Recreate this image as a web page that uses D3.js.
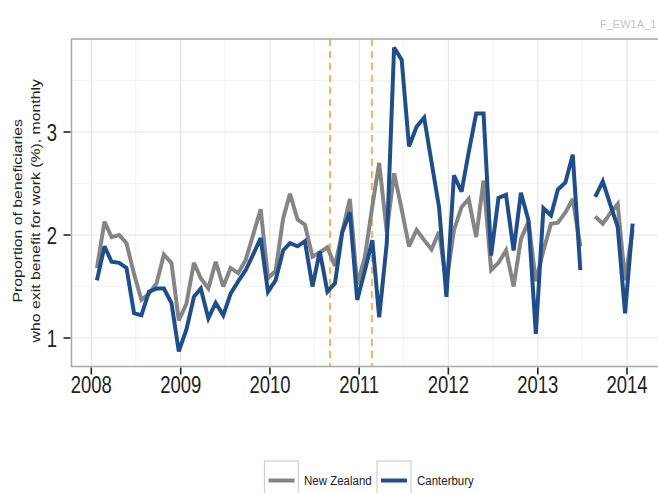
<!DOCTYPE html>
<html>
<head>
<meta charset="utf-8">
<script src="https://cdn.jsdelivr.net/npm/d3@7"></script>
<style>
  html, body { margin: 0; padding: 0; background: #fff; }
  svg { display: block; font-family: "Liberation Sans", Arial, sans-serif; }
</style>
</head>
<body>
<svg id="chart" width="658" height="493"></svg>
<script>
// ---- Data (monthly, Jan 2008 – Jan 2014; null = missing month) ----
const startYear = 2008;
const nzValues = [
  1.68, 2.13, 1.98, 2.00, 1.92, 1.62, 1.37, 1.43, 1.53, 1.81, 1.73, 1.17,
  1.33, 1.73, 1.58, 1.48, 1.74, 1.50, 1.68, 1.63, 1.76, 2.00, 2.25, 1.58,
  1.65, 2.16, 2.40, 2.15, 2.10, 1.79, 1.83, 1.88, 1.70, 2.03, 2.35, 1.52,
  1.78, 2.28, 2.70, 2.03, 2.60, 2.25, 1.89, 2.05, 1.95, 1.86, 2.03, 1.53,
  2.05, 2.27, 2.35, 1.98, 2.53, 1.66, 1.73, 1.85, 1.50, 1.96, 2.13, 1.55,
  1.85, 2.11, 2.12, 2.22, 2.35, 1.89, null, 2.18, 2.11, 2.21, 2.30, 1.56,
  2.05
];
const canterburyValues = [
  1.56, 1.89, 1.74, 1.73, 1.68, 1.24, 1.22, 1.45, 1.48, 1.48, 1.34, 0.87,
  1.08, 1.40, 1.48, 1.19, 1.34, 1.22, 1.43, 1.55, 1.66, 1.81, 1.97, 1.45,
  1.56, 1.85, 1.92, 1.89, 1.94, 1.50, 1.84, 1.45, 1.53, 2.03, 2.22, 1.37,
  1.65, 1.95, 1.20, 1.92, 3.82, 3.70, 2.86, 3.05, 3.14, 2.71, 2.27, 1.40,
  2.58, 2.42, 2.80, 3.18, 3.18, 1.80, 2.36, 2.39, 1.85, 2.41, 2.14, 1.04,
  2.26, 2.19, 2.44, 2.51, 2.78, 1.66, null, 2.37, 2.52, 2.30, 2.08, 1.24,
  2.11
];
const seriesNames = ["New Zealand", "Canterbury"];
const seriesColors = ["#858585", "#1f4e8a"];
const xTickYears = [2008, 2009, 2010, 2011, 2012, 2013, 2014];
const yTicks = [1, 2, 3];
const eventDates = [new Date(2010, 8, 4), new Date(2011, 1, 22)];
const yLabelLines = ["Proportion of beneficiaries", "who exit benefit for work (%), monthly"];
const cornerLabel = "F_EW1A_1";

// ---- Layout ----
const svg = d3.select("#chart");
const panel = { left: 71.5, top: 39, right: 700, bottom: 366.5 };
const sy = 1.33; // vertical stretch of text in the reference

const dates = nzValues.map((_, i) => new Date(startYear, i, 24));

const x = d3.scaleTime()
  .domain([new Date(2008, 0, 1), new Date(2014, 0, 1)])
  .range([91.3, 627]);
const y = d3.scaleLinear().domain([1, 3]).range([338, 132]);

svg.append("defs").append("clipPath").attr("id", "clip")
  .append("rect")
  .attr("x", panel.left).attr("y", panel.top)
  .attr("width", panel.right - panel.left).attr("height", panel.bottom - panel.top);

svg.append("rect")
  .attr("x", panel.left).attr("y", panel.top)
  .attr("width", panel.right - panel.left).attr("height", panel.bottom - panel.top)
  .attr("fill", "#fff");

const grid = svg.append("g").attr("clip-path", "url(#clip)");
const minorX = d3.range(2007, 2016).map(yr => new Date(yr, 6, 1));
const majorX = d3.range(2007, 2016).map(yr => new Date(yr, 0, 1));
grid.selectAll(".mx").data(minorX).join("line")
  .attr("x1", d => x(d)).attr("x2", d => x(d))
  .attr("y1", panel.top).attr("y2", panel.bottom)
  .attr("stroke", "#f3f3f3").attr("stroke-width", 1);
grid.selectAll(".Mx").data(majorX).join("line")
  .attr("x1", d => x(d)).attr("x2", d => x(d))
  .attr("y1", panel.top).attr("y2", panel.bottom)
  .attr("stroke", "#e6e6e6").attr("stroke-width", 1.2);
const minorY = [1.5, 2.5, 3.5];
const majorY = [1, 2, 3];
grid.selectAll(".my").data(minorY).join("line")
  .attr("x1", panel.left).attr("x2", panel.right)
  .attr("y1", d => y(d)).attr("y2", d => y(d))
  .attr("stroke", "#f3f3f3").attr("stroke-width", 1);
grid.selectAll(".My").data(majorY).join("line")
  .attr("x1", panel.left).attr("x2", panel.right)
  .attr("y1", d => y(d)).attr("y2", d => y(d))
  .attr("stroke", "#e6e6e6").attr("stroke-width", 1.2);

grid.selectAll(".ev").data(eventDates).join("line")
  .attr("x1", d => x(d)).attr("x2", d => x(d))
  .attr("y1", panel.top).attr("y2", panel.bottom)
  .attr("stroke", "#f2b450").attr("stroke-width", 2)
  .attr("stroke-dasharray", "7,5");

const line = d3.line()
  .defined(d => d.v != null)
  .x(d => x(d.t)).y(d => y(d.v));
const series = [nzValues, canterburyValues].map((vals, k) => ({
  name: seriesNames[k], color: seriesColors[k],
  pts: vals.map((v, i) => ({ t: dates[i], v }))
}));
grid.selectAll(".series").data(series).join("path")
  .attr("fill", "none")
  .attr("stroke", d => d.color)
  .attr("stroke-width", 4)
  .attr("stroke-linejoin", "miter")
  .attr("stroke-miterlimit", 3)
  .attr("d", d => line(d.pts));

svg.append("path")
  .attr("d", `M${panel.right},${panel.top}H${panel.left}V${panel.bottom}H${panel.right}`)
  .attr("fill", "none").attr("stroke", "#a8a8a8").attr("stroke-width", 1.5);

const xAxisG = svg.append("g");
xAxisG.selectAll("line").data(xTickYears).join("line")
  .attr("x1", d => x(new Date(d, 0, 1))).attr("x2", d => x(new Date(d, 0, 1)))
  .attr("y1", panel.bottom + 1).attr("y2", panel.bottom + 8)
  .attr("stroke", "#222").attr("stroke-width", 1.6);
xAxisG.selectAll("text").data(xTickYears).join("text")
  .attr("transform", d => `translate(${x(new Date(d, 0, 1))},393) scale(1,${sy})`)
  .attr("text-anchor", "middle")
  .attr("font-size", 18.5)
  .attr("fill", "#222")
  .text(d => d);

const yAxisG = svg.append("g");
yAxisG.selectAll("line").data(yTicks).join("line")
  .attr("x1", panel.left - 8).attr("x2", panel.left - 1)
  .attr("y1", d => y(d)).attr("y2", d => y(d))
  .attr("stroke", "#222").attr("stroke-width", 1.6);
yAxisG.selectAll("text").data(yTicks).join("text")
  .attr("transform", d => `translate(57,${y(d) + 8.5}) scale(1,${sy})`)
  .attr("text-anchor", "end")
  .attr("font-size", 18.5)
  .attr("fill", "#222")
  .text(d => d);

const yTitle = svg.append("g")
  .attr("transform", `translate(0,${(panel.top + panel.bottom) / 2 + 8})`);
yLabelLines.forEach((t, i) => {
  yTitle.append("text")
    .attr("transform", `translate(${22 + i * 18},0) rotate(-90) scale(1.17,1)`)
    .attr("text-anchor", "middle")
    .attr("font-size", 13.5)
    .attr("fill", "#222")
    .text(t);
});

svg.append("text")
  .attr("x", 600).attr("y", 28)
  .attr("font-size", 11)
  .attr("fill", "#c4c4c4")
  .text(cornerLabel);

const legendItems = [
  { name: seriesNames[0], color: seriesColors[0], bx: 264.5, tx: 304 },
  { name: seriesNames[1], color: seriesColors[1], bx: 377, tx: 417 }
];
const lg = svg.append("g");
legendItems.forEach(it => {
  lg.append("rect")
    .attr("x", it.bx).attr("y", 461).attr("width", 34).attr("height", 34)
    .attr("fill", "#fff").attr("stroke", "#cfcfcf").attr("stroke-width", 1.2);
  lg.append("line")
    .attr("x1", it.bx + 4).attr("x2", it.bx + 30)
    .attr("y1", 480.5).attr("y2", 480.5)
    .attr("stroke", it.color).attr("stroke-width", 4);
  lg.append("text")
    .attr("transform", `translate(${it.tx},485) scale(1,1.15)`)
    .attr("font-size", 11.5)
    .attr("fill", "#222")
    .text(it.name);
});
</script>
</body>
</html>
